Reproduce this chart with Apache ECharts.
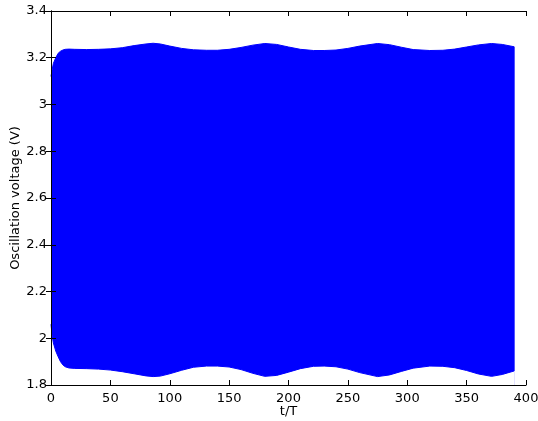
<!DOCTYPE html>
<html>
<head>
<meta charset="utf-8">
<script src="https://cdn.jsdelivr.net/npm/echarts@6/dist/echarts.min.js"></script>
<style>
html,body{margin:0;padding:0;background:#fff;}
#chart{width:538px;height:421px;}
</style>
</head>
<body>
<div id="chart"></div>
<script>
// t/T sample positions of the oscillation envelope
var tValues = [0, 1, 2, 4, 6, 8, 10, 12, 15, 20, 30, 40, 50, 60, 70, 80, 86, 92, 100, 110, 120, 131, 140, 150, 160, 170, 180, 190, 200, 210, 221, 230, 240, 250, 260, 275, 285, 295, 305, 319, 330, 340, 350, 360, 371, 380, 390];
// upper envelope (V)
var upperV = [3.12, 3.15, 3.176, 3.20, 3.219, 3.228, 3.233, 3.236, 3.237, 3.236, 3.235, 3.236, 3.238, 3.243, 3.252, 3.259, 3.262, 3.259, 3.250, 3.240, 3.234, 3.232, 3.232, 3.236, 3.244, 3.254, 3.261, 3.257, 3.246, 3.236, 3.231, 3.231, 3.233, 3.240, 3.250, 3.261, 3.256, 3.245, 3.235, 3.231, 3.232, 3.237, 3.246, 3.255, 3.261, 3.257, 3.247];
// lower envelope (V)
var lowerV = [2.06, 2.01, 1.98, 1.945, 1.921, 1.90, 1.886, 1.878, 1.873, 1.871, 1.870, 1.868, 1.864, 1.857, 1.848, 1.839, 1.836, 1.838, 1.848, 1.863, 1.876, 1.881, 1.881, 1.877, 1.866, 1.850, 1.837, 1.841, 1.855, 1.870, 1.880, 1.881, 1.878, 1.868, 1.853, 1.836, 1.843, 1.858, 1.872, 1.881, 1.880, 1.874, 1.862, 1.847, 1.837, 1.845, 1.860];
var xTicks = [0, 50, 100, 150, 200, 250, 300, 350, 400];
var yTicks = [1.8, 2, 2.2, 2.4, 2.6, 2.8, 3, 3.2, 3.4];

var upperData = tValues.map(function (t, i) { return [t, upperV[i]]; });
var lowerData = tValues.map(function (t, i) { return [t, lowerV[i]]; });
var lastT = tValues[tValues.length - 1];
var edgeData = [[lastT, lowerV[lowerV.length - 1]], [lastT, upperV[upperV.length - 1]]];

var font = 'DejaVu Sans, Verdana, sans-serif';
var chart = echarts.init(document.getElementById('chart'), null, {renderer: 'canvas'});
var axisLineStyle = {show: true, lineStyle: {color: '#000', width: 1}};
var tickStyle = {show: true, inside: true, length: 5, lineStyle: {color: '#000', width: 1}};

chart.setOption({
  animation: false,
  backgroundColor: '#fff',
  grid: {left: 51, right: 12, top: 11, bottom: 36, containLabel: false, outerBoundsMode: 'none'},
  xAxis: [{
    type: 'value', min: 0, max: 400, interval: 50, z: 10,
    name: 't/T', nameLocation: 'middle', nameGap: 20, nameMoveOverlap: false,
    nameTextStyle: {color: '#000', fontSize: 13, fontFamily: font},
    axisLine: axisLineStyle, axisTick: tickStyle,
    axisLabel: {color: '#000', fontSize: 13, fontFamily: font, margin: 7},
    splitLine: {show: false}
  }, {
    type: 'value', position: 'top', min: 0, max: 400, interval: 50, z: 10,
    axisLine: axisLineStyle, axisTick: tickStyle,
    axisLabel: {show: false}, splitLine: {show: false}
  }],
  yAxis: [{
    type: 'value', min: 1.8, max: 3.4, interval: 0.2, z: 10,
    name: 'Oscillation voltage (V)', nameLocation: 'middle', nameGap: 29, nameMoveOverlap: false,
    nameTextStyle: {color: '#000', fontSize: 13, fontFamily: font},
    axisLine: axisLineStyle, axisTick: tickStyle,
    axisLabel: {color: '#000', fontSize: 13, fontFamily: font, margin: 4,
      formatter: function (v) { return String(+v.toFixed(1)); }},
    splitLine: {show: false}
  }, {
    type: 'value', position: 'right', min: 1.8, max: 3.4, interval: 0.2, z: 10,
    axisLine: axisLineStyle, axisTick: tickStyle,
    axisLabel: {show: false}, splitLine: {show: false}
  }],
  series: [{
    type: 'line', data: upperData, showSymbol: false, symbol: 'none', z: 2,
    lineStyle: {color: '#0000ff', width: 1},
    areaStyle: {color: '#0000ff', opacity: 1, origin: 'start'}
  }, {
    type: 'line', data: lowerData, showSymbol: false, symbol: 'none', z: 3,
    lineStyle: {color: '#0000ff', width: 1},
    areaStyle: {color: '#ffffff', opacity: 1, origin: 'start'}
  }, {
    type: 'line', data: edgeData, showSymbol: false, symbol: 'none', z: 4,
    lineStyle: {color: '#0000ff', width: 1}
  }]
});
</script>
</body>
</html>
